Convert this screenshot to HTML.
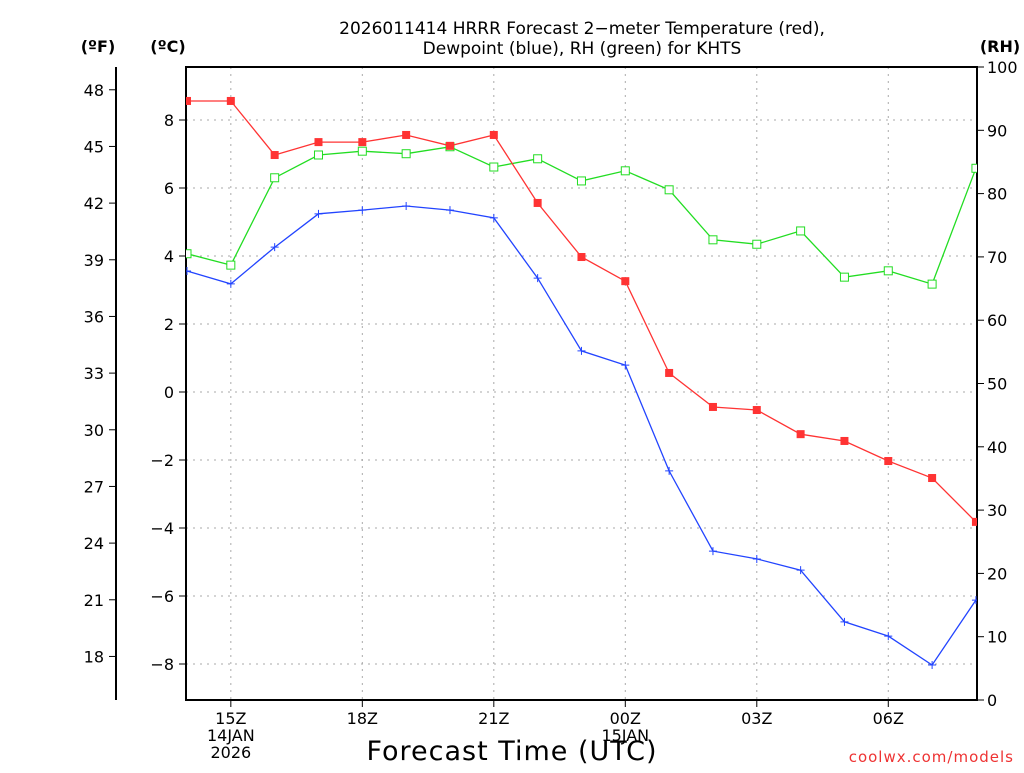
<!DOCTYPE html>
<html><head><meta charset="utf-8"><style>
body{margin:0;background:#fff;}
svg text{font-family:"DejaVu Sans","Liberation Sans",sans-serif;}
</style></head><body>
<svg id="c" width="1024" height="768" xmlns="http://www.w3.org/2000/svg"></svg>
<script>
const hours=[14,15,16,17,18,19,20,21,22,23,24,25,26,27,28,29,30,31,32];
const tempC=[8.56,8.56,6.97,7.35,7.35,7.56,7.24,7.56,5.56,3.97,3.26,0.56,-0.44,-0.53,-1.24,-1.44,-2.03,-2.53,-3.82];
const dewC=[3.56,3.18,4.26,5.24,5.35,5.47,5.35,5.12,3.35,1.21,0.79,-2.32,-4.68,-4.91,-5.24,-6.76,-7.18,-8.03,-6.12];
const rh=[70.5,68.7,82.5,86.1,86.7,86.3,87.4,84.2,85.5,82.0,83.6,80.6,72.7,72.0,74.1,66.8,67.8,65.7,84.0];
const cTicks=[8,6,4,2,0,-2,-4,-6,-8];
const fTicks=[48,45,42,39,36,33,30,27,24,21,18];
const rhTicks=[0,10,20,30,40,50,60,70,80,90,100];
const xTickHours=[15,18,21,24,27,30];
const xTickLabels=["15Z","18Z","21Z","00Z","03Z","06Z"];

const L=186,R=977,T=67,B=700;
const x=h=>187+(h-14)*43.83;
const yC=c=>392-34*c;
const yF=f=>yC((f-32)/1.8);
const yRH=r=>700-r*6.33;
const svg=document.getElementById('c');
const NS="http://www.w3.org/2000/svg";
function mk(tag,attrs,txt){const e=document.createElementNS(NS,tag);for(const k in attrs)e.setAttribute(k,attrs[k]);if(txt!==undefined)e.textContent=txt;svg.appendChild(e);return e;}

// gridlines
cTicks.forEach(c=>{const e=mk('line',{x1:L,x2:R,y1:yC(c),y2:yC(c),stroke:'#aaa','stroke-dasharray':'2,5'});

});
xTickHours.forEach(h=>{const e=mk('line',{x1:x(h),x2:x(h),y1:T,y2:B,stroke:'#aaa','stroke-dasharray':'2,5'});

});

// frame
let fr=mk('rect',{x:L,y:T,width:R-L,height:B-T,fill:'none',stroke:'#000','stroke-width':2});



// C axis
cTicks.forEach(c=>{mk('line',{x1:L-7,x2:L,y1:yC(c),y2:yC(c),stroke:'#000'});
const t=mk('text',{x:L-12,y:yC(c)+6,'text-anchor':'end','font-size':16},c===0?'0':(c<0?'−'+(-c):String(c)));

});
// F axis
let fa=mk('line',{x1:116,x2:116,y1:T,y2:B,stroke:'#000','stroke-width':2});


fTicks.forEach(f=>{mk('line',{x1:109,x2:116,y1:yF(f),y2:yF(f),stroke:'#000'});
const t=mk('text',{x:104,y:yF(f)+6,'text-anchor':'end','font-size':16},String(f));

});
// RH axis
rhTicks.forEach(r=>{mk('line',{x1:R,x2:R+7,y1:yRH(r),y2:yRH(r),stroke:'#000'});
const t=mk('text',{x:987,y:yRH(r)+6,'font-size':16},String(r));

});
// x ticks
xTickHours.forEach((h,i)=>{mk('line',{x1:x(h),x2:x(h),y1:B,y2:B+7,stroke:'#000'});
const t=mk('text',{x:x(h),y:724,'text-anchor':'middle','font-size':16},xTickLabels[i]);

});
[['14JAN',x(15),741],['2026',x(15),758],['15JAN',x(24),741]].forEach(a=>{const t=mk('text',{x:a[1],y:a[2],'text-anchor':'middle','font-size':16},a[0]);

});

// units
[['(ºF)',98],['(ºC)',168],['(RH)',1000]].forEach(a=>{const t=mk('text',{x:a[1],y:52,'text-anchor':'middle','font-size':16,'font-weight':'bold'},a[0]);

});

// title
let t1=mk('text',{x:582,y:34,'text-anchor':'middle','font-size':17},'2026011414 HRRR Forecast 2−meter Temperature (red),');


let t2=mk('text',{x:582,y:54,'text-anchor':'middle','font-size':17},'Dewpoint (blue), RH (green) for KHTS');


let xt=mk('text',{x:512,y:760,'text-anchor':'middle','font-size':27,'letter-spacing':'1'},'Forecast Time (UTC)');


let cr=mk('text',{x:1014,y:762,'text-anchor':'end','font-size':15,fill:'#e33','letter-spacing':'1'},'coolwx.com/models');



// clip
const defs=mk('defs',{});const cp=document.createElementNS(NS,'clipPath');cp.setAttribute('id','pc');
const cr2=document.createElementNS(NS,'rect');cr2.setAttribute('x',L);cr2.setAttribute('y',T);cr2.setAttribute('width',R-L);cr2.setAttribute('height',B-T);cp.appendChild(cr2);defs.appendChild(cp);

function series(vals,yf,color,marker,name){
  const g=mk('g',{'clip-path':'url(#pc)'});
  
  
  const pts=vals.map((v,i)=>x(hours[i]).toFixed(1)+','+yf(v).toFixed(1)).join(' ');
  const pl=document.createElementNS(NS,'polyline');pl.setAttribute('points',pts);pl.setAttribute('fill','none');pl.setAttribute('stroke',color);pl.setAttribute('stroke-width','1.3');g.appendChild(pl);
  vals.forEach((v,i)=>{const px=x(hours[i]),py=yf(v);let m;
    if(marker==='fill'){m=document.createElementNS(NS,'rect');m.setAttribute('x',px-4);m.setAttribute('y',py-4);m.setAttribute('width',8);m.setAttribute('height',8);m.setAttribute('fill',color);}
    else if(marker==='open'){m=document.createElementNS(NS,'rect');m.setAttribute('x',px-4);m.setAttribute('y',py-4);m.setAttribute('width',8);m.setAttribute('height',8);m.setAttribute('fill','#fff');m.setAttribute('stroke',color);}
    else{m=document.createElementNS(NS,'path');m.setAttribute('d',`M${px-4},${py}H${px+4}M${px},${py-4}V${py+4}`);m.setAttribute('stroke',color);}
    
    
    g.appendChild(m);});
}
series(rh,yRH,'#22dd22','open','rh');
series(dewC,yC,'#2244ff','plus','dewpoint');
series(tempC,yC,'#ff3333','fill','temperature');
</script>
</body></html>
